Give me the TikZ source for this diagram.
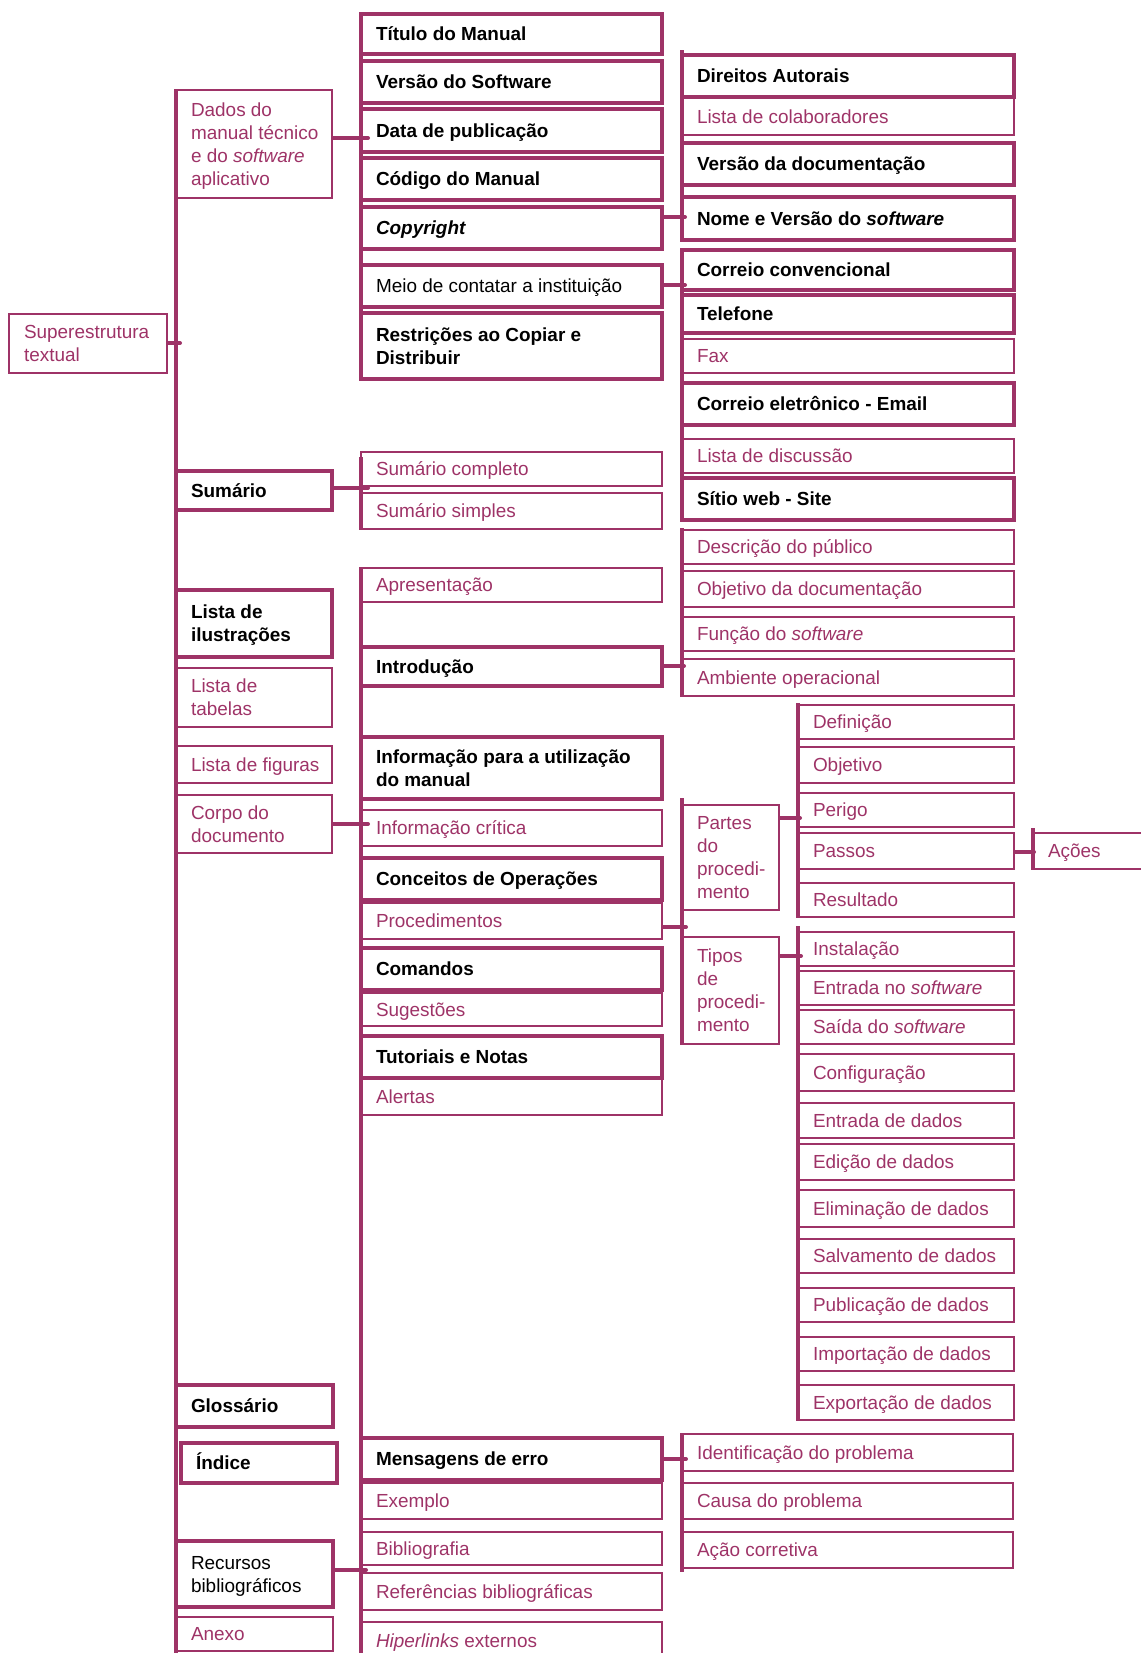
\documentclass[tikz,border=0pt]{standalone}
\usepackage{fontspec}
\setmainfont{Liberation Sans}
\definecolor{mg}{RGB}{158,51,103}
\newcommand\basefont{\fontsize{14.2}{17.3}\selectfont}
% #1 style, #2 name, #3 x1, #4 y1, #5 x2, #6 y2, #7 text  (pixel units, y downward)
\newcommand\boxnode[7]{%
  \pgfmathsetmacro\bxw{(#5-#3)*0.75}%
  \pgfmathsetmacro\bxh{(#6-#4)*0.75}%
  \pgfmathsetmacro\bxt{(#5-#3-30)*0.75}%
  \node[#1, minimum width=\bxw pt, minimum height=\bxh pt]
    (#2) at ({(#3+#5)/2},{(#4+#6)/2})
    {\makebox[\bxt pt][l]{\raisebox{-1.5pt}[\height][\depth]{\begin{tabular}{@{}l@{}}#7\end{tabular}}}};%
}
\tikzset{
  basebox/.style={draw=mg, rectangle, inner xsep=11.25pt, inner ysep=0pt, anchor=center},
  thickbox/.style={basebox, line width=3pt, text=black, font=\basefont\bfseries},
  plainthick/.style={basebox, line width=3pt, text=black, font=\basefont},
  thinbox/.style={basebox, line width=1.6pt, text=mg, font=\basefont},
  trunk/.style={draw=mg, line width=3pt},
  conn/.style={draw=mg, line width=3pt, line cap=round},
}
\begin{document}
\begin{tikzpicture}[x=0.75pt, y=-0.75pt]
\useasboundingbox (0,0) rectangle (1141,1653);

% root
\boxnode{thinbox}{sup}{9}{314}{167}{373}{Superestrutura\\textual}

% first level
\boxnode{thinbox}{dados}{176}{90}{332}{198}{Dados do\\manual técnico\\e do \textit{software}\\aplicativo}
\boxnode{thickbox}{sumario}{176}{471}{332}{510}{Sumário}
\boxnode{thickbox}{ilus}{176}{590}{332}{657}{Lista de\\ilustrações}
\boxnode{thinbox}{tabelas}{176}{668}{332}{727}{Lista de\\tabelas}
\boxnode{thinbox}{figuras}{176}{746}{332}{783}{Lista de figuras}
\boxnode{thinbox}{corpo}{176}{795}{332}{853}{Corpo do\\documento}
\boxnode{thickbox}{gloss}{176}{1385}{333}{1427}{Glossário}
\boxnode{thickbox}{indice}{181}{1443}{337}{1483}{Índice}
\boxnode{plainthick}{recursos}{176}{1541}{333}{1607}{Recursos\\bibliográficos}
\boxnode{thinbox}{anexo}{176}{1617}{333}{1651}{Anexo}

% second level
\boxnode{thickbox}{titulo}{361}{14}{662}{54}{Título do Manual}
\boxnode{thickbox}{versao}{361}{61}{662}{103}{Versão do Software}
\boxnode{thickbox}{data}{361}{109}{662}{152}{Data de publicação}
\boxnode{thickbox}{codigo}{361}{158}{662}{200}{Código do Manual}
\boxnode{thickbox}{copyright}{361}{207}{662}{249}{\textit{Copyright}}
\boxnode{plainthick}{meio}{361}{265}{662}{307}{Meio de contatar a instituição}
\boxnode{thickbox}{restr}{361}{313}{662}{379}{Restrições ao Copiar e\\Distribuir}
\boxnode{thinbox}{sumcomp}{361}{452}{662}{486}{Sumário completo}
\boxnode{thinbox}{sumsimp}{361}{493}{662}{529}{Sumário simples}
\boxnode{thinbox}{apres}{361}{568}{662}{602}{Apresentação}
\boxnode{thickbox}{intro}{361}{647}{662}{686}{Introdução}
\boxnode{thickbox}{infouso}{361}{737}{662}{799}{Informação para a utilização\\do manual}
\boxnode{thinbox}{infocrit}{361}{810}{662}{846}{Informação crítica}
\boxnode{thickbox}{conceitos}{361}{858}{662}{900}{Conceitos de Operações}
\boxnode{thinbox}{proced}{361}{903}{662}{939}{Procedimentos}
\boxnode{thickbox}{comandos}{361}{948}{662}{990}{Comandos}
\boxnode{thinbox}{sugest}{361}{993}{662}{1026}{Sugestões}
\boxnode{thickbox}{tutoriais}{361}{1036}{662}{1078}{Tutoriais e Notas}
\boxnode{thinbox}{alertas}{361}{1079}{662}{1115}{Alertas}
\boxnode{thickbox}{mensagens}{361}{1438}{662}{1480}{Mensagens de erro}
\boxnode{thinbox}{exemplo}{361}{1483}{662}{1519}{Exemplo}
\boxnode{thinbox}{biblio}{361}{1532}{662}{1565}{Bibliografia}
\boxnode{thinbox}{refs}{361}{1573}{662}{1610}{Referências bibliográficas}
\boxnode{thinbox}{hiper}{361}{1622}{662}{1660}{\textit{Hiperlinks} externos}

% third level
\boxnode{thickbox}{direitos}{682}{55}{1014}{97}{Direitos Autorais}
\boxnode{thinbox}{listacol}{682}{98}{1014}{135}{Lista de colaboradores}
\boxnode{thickbox}{versaodoc}{682}{143}{1014}{185}{Versão da documentação}
\boxnode{thickbox}{nome}{682}{197}{1014}{240}{Nome e Versão do \textit{software}}
\boxnode{thickbox}{correio}{682}{250}{1014}{290}{Correio convencional}
\boxnode{thickbox}{telefone}{682}{295}{1014}{333}{Telefone}
\boxnode{thinbox}{fax}{682}{339}{1014}{373}{Fax}
\boxnode{thickbox}{email}{682}{383}{1014}{425}{Correio eletrônico - Email}
\boxnode{thinbox}{listadisc}{682}{439}{1014}{473}{Lista de discussão}
\boxnode{thickbox}{sitio}{682}{478}{1014}{520}{Sítio web - Site}
\boxnode{thinbox}{descr}{682}{530}{1014}{564}{Descrição do público}
\boxnode{thinbox}{objdoc}{682}{571}{1014}{607}{Objetivo da documentação}
\boxnode{thinbox}{funcao}{682}{617}{1014}{651}{Função do \textit{software}}
\boxnode{thinbox}{ambiente}{682}{659}{1014}{696}{Ambiente operacional}
\boxnode{thinbox}{partes}{682}{805}{779}{910}{Partes\\do\\procedi-\\mento}
\boxnode{thinbox}{tipos}{682}{937}{779}{1044}{Tipos\\de\\procedi-\\mento}
\boxnode{thinbox}{ident}{682}{1434}{1013}{1471}{Identificação do problema}
\boxnode{thinbox}{causa}{682}{1483}{1013}{1519}{Causa do problema}
\boxnode{thinbox}{acao}{682}{1532}{1013}{1568}{Ação corretiva}

% fourth level
\boxnode{thinbox}{definicao}{798}{705}{1014}{739}{Definição}
\boxnode{thinbox}{objetivo}{798}{747}{1014}{783}{Objetivo}
\boxnode{thinbox}{perigo}{798}{793}{1014}{827}{Perigo}
\boxnode{thinbox}{passos}{798}{833}{1014}{869}{Passos}
\boxnode{thinbox}{resultado}{798}{883}{1014}{917}{Resultado}
\boxnode{thinbox}{instal}{798}{932}{1014}{966}{Instalação}
\boxnode{thinbox}{entsw}{798}{971}{1014}{1005}{Entrada no \textit{software}}
\boxnode{thinbox}{saisw}{798}{1010}{1014}{1044}{Saída do \textit{software}}
\boxnode{thinbox}{config}{798}{1054}{1014}{1091}{Configuração}
\boxnode{thinbox}{entdados}{798}{1103}{1014}{1138}{Entrada de dados}
\boxnode{thinbox}{edicao}{798}{1144}{1014}{1180}{Edição de dados}
\boxnode{thinbox}{elim}{798}{1190}{1014}{1227}{Eliminação de dados}
\boxnode{thinbox}{salv}{798}{1239}{1014}{1273}{Salvamento de dados}
\boxnode{thinbox}{publ}{798}{1288}{1014}{1322}{Publicação de dados}
\boxnode{thinbox}{import}{798}{1337}{1014}{1371}{Importação de dados}
\boxnode{thinbox}{export}{798}{1385}{1014}{1420}{Exportação de dados}

% fifth level
\boxnode{thinbox}{acoes}{1033}{833}{1170}{869}{Ações}

% trunk lines
\coordinate (t1a) at (176,89);   \coordinate (t1b) at (176,1660);
\coordinate (t2a) at (361,13);   \coordinate (t2b) at (361,380);
\coordinate (t2c) at (361,457);  \coordinate (t2d) at (361,530);
\coordinate (t2e) at (361,567);  \coordinate (t2f) at (361,1660);
\coordinate (t3a) at (682,50);   \coordinate (t3b) at (682,241);
\coordinate (t3c) at (682,249);  \coordinate (t3d) at (682,521);
\coordinate (t3e) at (682,528);  \coordinate (t3f) at (682,697);
\coordinate (t3g) at (682,798);  \coordinate (t3h) at (682,1045);
\coordinate (t3i) at (682,1433); \coordinate (t3j) at (682,1572);
\coordinate (t4a) at (798,703);  \coordinate (t4b) at (798,918);
\coordinate (t4c) at (798,926);  \coordinate (t4d) at (798,1421);
\coordinate (t5a) at (1033,828); \coordinate (t5b) at (1033,870);
\foreach \p/\q in {t1a/t1b,t2a/t2b,t2c/t2d,t2e/t2f,t3a/t3b,t3c/t3d,t3e/t3f,t3g/t3h,t3i/t3j,t4a/t4b,t4c/t4d,t5a/t5b}
  \draw[trunk] (\p) -- (\q);

% junctions on the trunks
\coordinate (jsup) at (180,343);
\coordinate (jdados) at (368,138);
\coordinate (jsum) at (368,488);
\coordinate (jcorpo) at (368,824);
\coordinate (jrec) at (366,1570);
\coordinate (jcopy) at (685,217);
\coordinate (jmeio) at (685,285);
\coordinate (jintro) at (684,666);
\coordinate (jproc) at (686,927);
\coordinate (jpartes) at (800,818);
\coordinate (jtipos) at (801,956);
\coordinate (jpassos) at (1034,852);
\coordinate (jmsg) at (686,1459);

% connectors
\foreach \n/\j in {sup/jsup,dados/jdados,sumario/jsum,corpo/jcorpo,recursos/jrec,
  copyright/jcopy,meio/jmeio,intro/jintro,proced/jproc,partes/jpartes,
  tipos/jtipos,passos/jpassos,mensagens/jmsg}
  \draw[conn] (\n.east |- \j) -- (\j);
\end{tikzpicture}
\end{document}
